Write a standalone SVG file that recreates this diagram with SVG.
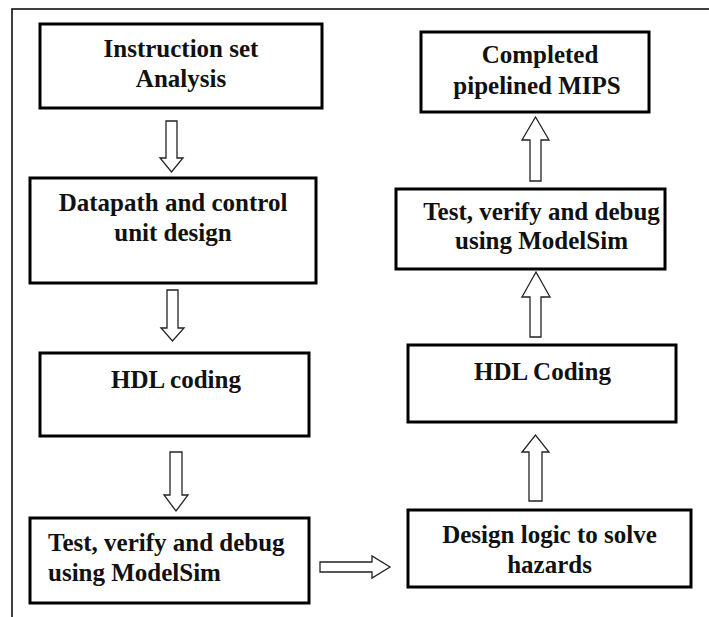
<svg xmlns="http://www.w3.org/2000/svg" width="709" height="617" viewBox="0 0 709 617">
<style>
.box{fill:#fff;stroke:#000;stroke-width:3}
.arr{fill:#fff;stroke:#222;stroke-width:1.3;stroke-linejoin:miter}
.t{font-family:'Liberation Serif','Times New Roman','DejaVu Serif',serif;font-weight:bold;font-size:25px;fill:#111;text-anchor:middle}
.l{text-anchor:start}
.frame{fill:none;stroke:#000;stroke-width:1.5}
</style>
<rect width="709" height="617" fill="#fff"/>
<path class="frame" d="M12,617 V9 H709"/>
<g id="n1"><rect class="box" x="40" y="24" width="282" height="84"/>
<text class="t" x="181" y="57">Instruction set</text><text class="t" x="181" y="87">Analysis</text></g>
<g id="n2"><rect class="box" x="30" y="178" width="286" height="105"/>
<text class="t" x="173" y="211">Datapath and control</text><text class="t" x="173" y="241">unit design</text></g>
<g id="n3"><rect class="box" x="40" y="353" width="269" height="83"/>
<text class="t" x="176" y="388">HDL coding</text></g>
<g id="n4"><rect class="box" x="30" y="518" width="279" height="85"/>
<text class="t l" x="48" y="551">Test, verify and debug</text><text class="t l" x="48" y="581">using ModelSim</text></g>
<g id="n5"><rect class="box" x="408" y="510" width="283" height="77"/>
<text class="t" x="549.5" y="543">Design logic to solve</text><text class="t" x="549.5" y="573">hazards</text></g>
<g id="n6"><rect class="box" x="408" y="345" width="268" height="77"/>
<text class="t" x="542.5" y="380">HDL Coding</text></g>
<g id="n7"><rect class="box" x="396" y="189" width="269" height="80"/>
<text class="t" x="541.5" y="220">Test, verify and debug</text><text class="t" x="541.5" y="249">using ModelSim</text></g>
<g id="n8"><rect class="box" x="421" y="32" width="228" height="80"/>
<text class="t" x="540" y="63">Completed</text><text class="t" x="537" y="94">pipelined MIPS</text></g>
<g id="connectors">
<polygon class="arr" points="166,121 177,121 177,158 183,158 171.5,172 160,158 166,158"/>
<polygon class="arr" points="167,290 178,290 178,328 184,328 172.5,341 161,328 167,328"/>
<polygon class="arr" points="170,452 182,452 182,495 188,495 176,511 164,495 170,495"/>
<polygon class="arr" points="320,562 372,562 372,556 390,567 372,578 372,572 320,572"/>
<polygon class="arr" points="529,501 542,501 542,452 549,452 535.5,435 522,452 529,452"/>
<polygon class="arr" points="530,337 541,337 541,297 550,297 536,272 522,297 530,297"/>
<polygon class="arr" points="530,181 541,181 541,140 549,140 535.5,117 522,140 530,140"/>
</g>
</svg>
